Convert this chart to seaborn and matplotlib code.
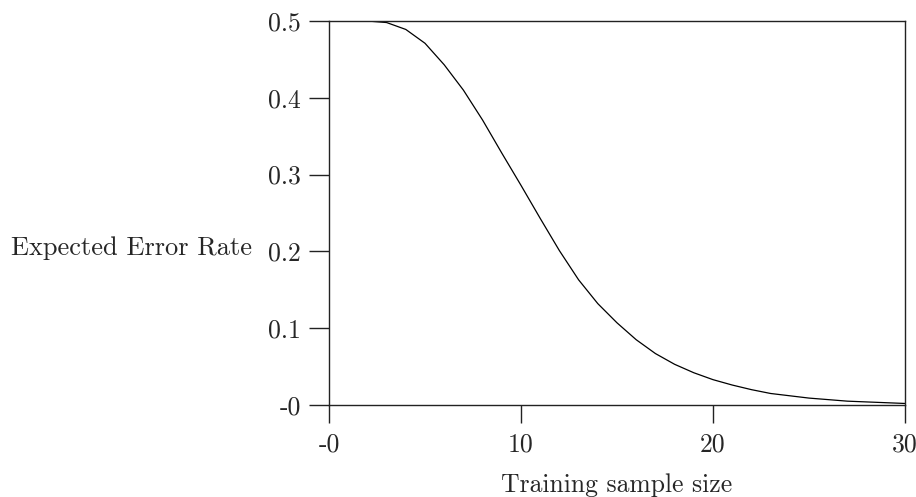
import matplotlib
matplotlib.use("Agg")
import matplotlib.pyplot as plt
import seaborn as sns
import pandas as pd

# Expected error rate as a function of the training sample size
sample_size = list(range(1, 31))
error_rate = [0.500, 0.500, 0.498, 0.489, 0.471, 0.443, 0.410, 0.371, 0.328, 0.286,
              0.243, 0.201, 0.163, 0.132, 0.107, 0.085, 0.067, 0.053, 0.042, 0.033,
              0.026, 0.020, 0.015, 0.012, 0.009, 0.007, 0.005, 0.004, 0.003, 0.002]

x_ticks = [0, 10, 20, 30]
x_tick_labels = ["-0", "10", "20", "30"]
y_ticks = [0.0, 0.1, 0.2, 0.3, 0.4, 0.5]
y_tick_labels = ["-0", "0.1", "0.2", "0.3", "0.4", "0.5"]

sns.set_style("white")
plt.rcParams["font.family"] = ["cmr10", "DejaVu Serif"]
plt.rcParams["axes.formatter.use_mathtext"] = True

FS = 18.5

df = pd.DataFrame({"size": sample_size, "rate": error_rate})

fig = plt.figure(figsize=(9.16, 4.97), dpi=100)
ax = fig.add_axes([329 / 916, 1 - 405 / 497, 576 / 916, 384 / 497])

sns.lineplot(data=df, x="size", y="rate", ax=ax, color="black", linewidth=0.9)

ax.set_xlim(0, 30)
ax.set_ylim(0, 0.5)
ax.set_xticks(x_ticks)
ax.set_xticklabels(x_tick_labels)
ax.set_yticks(y_ticks)
ax.set_yticklabels(y_tick_labels)

for spine in ax.spines.values():
    spine.set_color("#222222")
    spine.set_linewidth(1.0)

ax.tick_params(axis="x", direction="out", length=13, width=1.0, color="#222222",
               pad=7, labelsize=FS, bottom=True)
ax.tick_params(axis="y", direction="out", length=14.4, width=1.0, color="#222222",
               pad=6, labelsize=FS, left=True)

ax.set_xlabel("Training sample size", fontsize=FS, labelpad=12)
ax.set_ylabel("Expected Error Rate", fontsize=19, rotation=0, ha="right", va="center")
ax.yaxis.set_label_coords(-0.134, 0.409)

fig.savefig("out.png", dpi=100)
